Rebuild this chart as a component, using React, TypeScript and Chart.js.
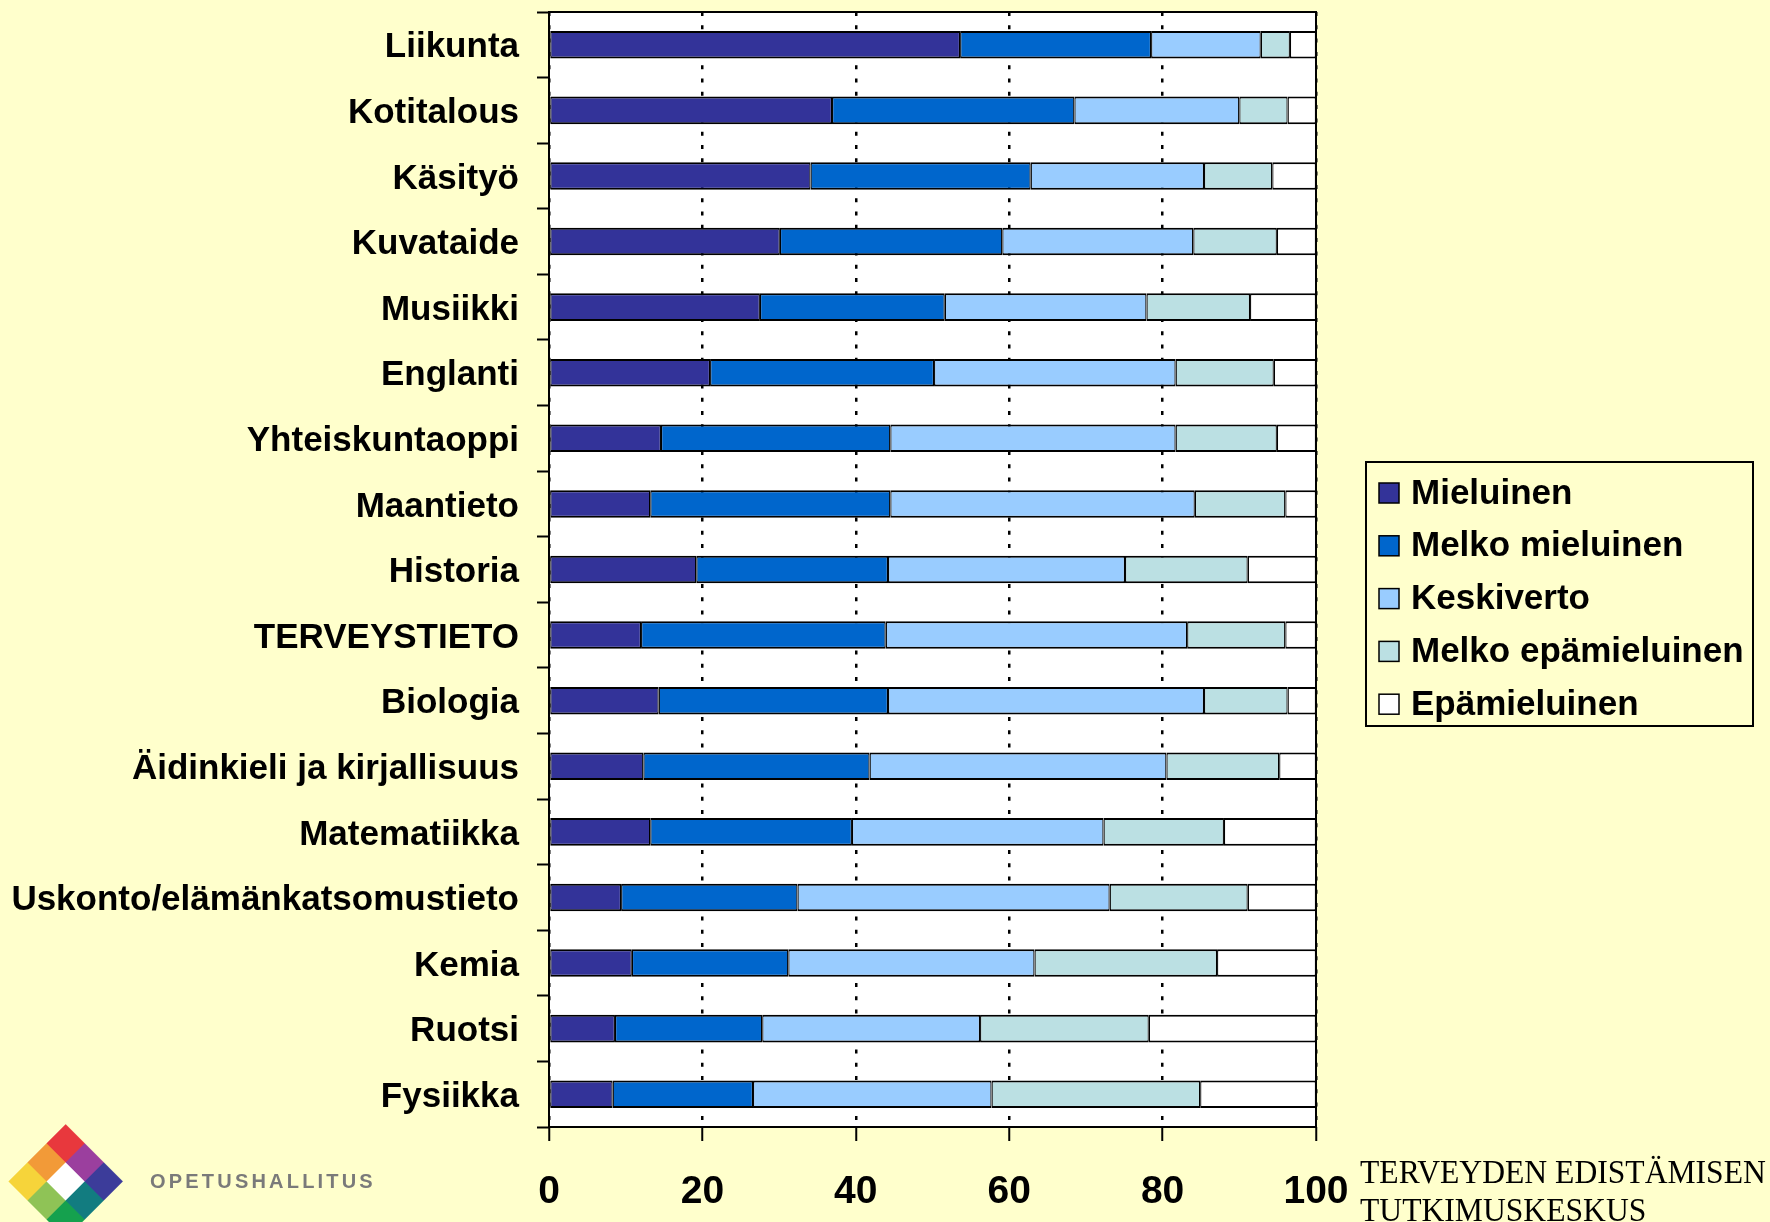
import React, { useEffect, useRef } from "react";
import { Chart, registerables } from "chart.js";
Chart.register(...registerables);

const subjects = [
  "Liikunta",
  "Kotitalous",
  "Käsityö",
  "Kuvataide",
  "Musiikki",
  "Englanti",
  "Yhteiskuntaoppi",
  "Maantieto",
  "Historia",
  "TERVEYSTIETO",
  "Biologia",
  "Äidinkieli ja kirjallisuus",
  "Matematiikka",
  "Uskonto/elämänkatsomustieto",
  "Kemia",
  "Ruotsi",
  "Fysiikka",
];

const seriesNames = [
  "Mieluinen",
  "Melko mieluinen",
  "Keskiverto",
  "Melko epämieluinen",
  "Epämieluinen",
];

const mieluinen = [53.6, 36.9, 34.1, 30.1, 27.5, 21.0, 14.6, 13.2, 19.2, 12.0, 14.3, 12.3, 13.2, 9.4, 10.8, 8.6, 8.3];
const melkoMieluinen = [24.9, 31.6, 28.7, 29.0, 24.1, 29.2, 29.9, 31.3, 25.0, 31.9, 29.9, 29.5, 26.3, 23.0, 20.4, 19.2, 18.3];
const keskiverto = [14.3, 21.5, 22.6, 24.9, 26.3, 31.5, 37.2, 39.7, 30.9, 39.3, 41.2, 38.7, 32.8, 40.7, 32.1, 28.4, 31.1];
const melkoEpamieluinen = [3.8, 6.3, 8.9, 10.9, 13.5, 12.8, 13.2, 11.8, 16.0, 12.8, 10.9, 14.7, 15.7, 18.0, 23.8, 22.0, 27.2];
const epamieluinen = [3.4, 3.7, 5.7, 5.1, 8.6, 5.5, 5.1, 4.0, 8.9, 4.0, 3.7, 4.8, 12.0, 8.9, 12.9, 21.8, 15.1];

const xTickValues = [0, 20, 40, 60, 80, 100];

const seriesColors = ["#333399", "#0066CC", "#99CCFF", "#BBE0E3", "#FFFFFF"];

const FONT = "'Liberation Sans', Arial, sans-serif";

const plotBgPlugin = {
  id: "plotBg",
  beforeDraw(chart: any) {
    const { ctx, chartArea } = chart;
    ctx.save();
    ctx.fillStyle = "#FFFFFF";
    ctx.fillRect(chartArea.left, chartArea.top, chartArea.right - chartArea.left, chartArea.bottom - chartArea.top);
    ctx.restore();
  },
  afterDatasetsDraw(chart: any) {
    const { ctx, chartArea } = chart;
    ctx.save();
    ctx.strokeStyle = "#000";
    ctx.lineWidth = 2;
    ctx.strokeRect(chartArea.left, chartArea.top, chartArea.right - chartArea.left, chartArea.bottom - chartArea.top);
    ctx.restore();
  },
};

const boxLegendPlugin = {
  id: "boxLegend",
  afterDraw(chart: any) {
    const ctx = chart.ctx;
    const x0 = 1366, y0 = 462, w = 387, h = 264;
    ctx.save();
    ctx.strokeStyle = "#000";
    ctx.lineWidth = 2;
    ctx.strokeRect(x0, y0, w, h);
    chart.data.datasets.forEach((ds: any, i: number) => {
      const cy = y0 + 31 + i * 52.8;
      ctx.fillStyle = ds.backgroundColor;
      ctx.fillRect(1379, cy - 10, 20, 20);
      ctx.lineWidth = 1.5;
      ctx.strokeStyle = "#000";
      ctx.strokeRect(1379, cy - 10, 20, 20);
      ctx.fillStyle = "#000";
      ctx.font = `bold 35px ${FONT}`;
      ctx.textBaseline = "middle";
      ctx.textAlign = "left";
      ctx.fillText(ds.label, 1411, cy + 1);
    });
    ctx.restore();
  },
};

const logoColors = [
  ["#E8383D", "#9B3F9E", "#3C3C9A"],
  ["#F29A38", "#FFFFFF", "#127C80"],
  ["#F6D43A", "#8FC356", "#15A14E"],
];

export default function App() {
  const canvasRef = useRef<HTMLCanvasElement | null>(null);

  useEffect(() => {
    const canvas = canvasRef.current;
    if (!canvas) return;
    const seriesValues = [mieluinen, melkoMieluinen, keskiverto, melkoEpamieluinen, epamieluinen];
    const chart = new Chart(canvas, {
      type: "bar",
      data: {
        labels: subjects,
        datasets: seriesNames.map((name, i) => ({
          label: name,
          data: seriesValues[i],
          backgroundColor: seriesColors[i],
          borderColor: "#000000",
          borderWidth: { top: 2, bottom: 2, left: 1.25, right: 1.25 },
          borderSkipped: false,
          barPercentage: 0.42,
          categoryPercentage: 1,
        })),
      },
      options: {
        indexAxis: "y",
        responsive: false,
        animation: false,
        layout: { padding: { left: 0, top: 12, right: 454, bottom: 0 } },
        plugins: {
          legend: { display: false },
          tooltip: { enabled: false },
        },
        scales: {
          x: {
            type: "linear",
            stacked: true,
            min: 0,
            max: 100,
            afterBuildTicks: (scale: any) => {
              scale.ticks = xTickValues.map((v) => ({ value: v }));
            },
            afterFit: (scale: any) => {
              scale.height = 95;
              scale.paddingLeft = 0;
              scale.paddingRight = 0;
            },
            border: { display: false, dash: [4, 9.3] },
            grid: {
              color: "#000000",
              lineWidth: 2.5,
              drawOnChartArea: true,
              drawTicks: true,
              tickLength: 14,
              tickWidth: 2,
              tickColor: "#000000",
              tickBorderDash: [],
            },
            ticks: {
              color: "#000000",
              padding: 28,
              font: { family: FONT, size: 39, weight: "bold" },
              maxRotation: 0,
            },
          },
          y: {
            type: "category",
            stacked: true,
            afterFit: (scale: any) => {
              scale.width = 549;
              scale.paddingTop = 0;
              scale.paddingBottom = 0;
            },
            border: { display: false },
            grid: {
              display: true,
              offset: true,
              drawOnChartArea: false,
              drawTicks: true,
              tickLength: 12,
              tickWidth: 2,
              tickColor: "#000000",
              color: "#000000",
            },
            ticks: {
              color: "#000000",
              padding: 18,
              labelOffset: 3,
              autoSkip: false,
              font: { family: FONT, size: 35, weight: "bold" },
            },
          },
        },
      } as any,
      plugins: [plotBgPlugin, boxLegendPlugin],
    });
    return () => chart.destroy();
  }, []);

  const cell = 27.1;
  return (
    <div
      style={{
        position: "absolute",
        left: 0,
        top: 0,
        width: 1770,
        height: 1222,
        background: "#FFFFCC",
        overflow: "hidden",
      }}
    >
      <canvas ref={canvasRef} width={1770} height={1222} style={{ position: "absolute", left: 0, top: 0 }} />
      <div
        style={{
          position: "absolute",
          left: 66 - (cell * 3) / 2,
          top: 1182 - (cell * 3) / 2,
          width: cell * 3,
          height: cell * 3,
          transform: "rotate(45deg)",
          display: "grid",
          gridTemplateColumns: `repeat(3, ${cell}px)`,
          gridTemplateRows: `repeat(3, ${cell}px)`,
          filter: "blur(0.6px)",
        }}
      >
        {logoColors.flat().map((c, i) => (
          <div key={i} style={{ background: c }} />
        ))}
      </div>
      <div
        style={{
          position: "absolute",
          left: 150,
          top: 1171,
          fontFamily: FONT,
          fontSize: 20,
          lineHeight: "20px",
          letterSpacing: "3.2px",
          color: "#7a7a7a",
          fontWeight: "bold",
          whiteSpace: "nowrap",
        }}
      >
        OPETUSHALLITUS
      </div>
      <div
        style={{
          position: "absolute",
          left: 1360,
          top: 1153,
          fontFamily: "'Liberation Serif', 'Times New Roman', serif",
          fontSize: 34,
          lineHeight: "38px",
          color: "#000",
          whiteSpace: "nowrap",
          transform: "scaleX(0.93)",
          transformOrigin: "left top",
        }}
      >
        TERVEYDEN EDISTÄMISEN
        <br />
        TUTKIMUSKESKUS
      </div>
    </div>
  );
}
